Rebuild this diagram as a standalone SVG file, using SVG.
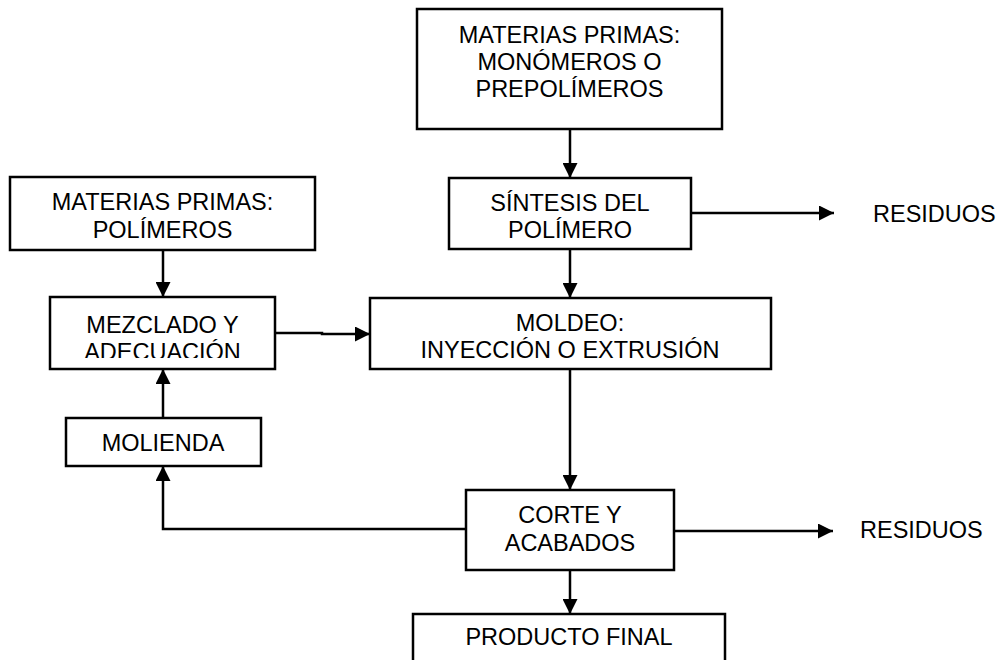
<svg xmlns="http://www.w3.org/2000/svg" width="999" height="660" viewBox="0 0 999 660">
<defs>
<style>
.box{fill:#fff;stroke:#000;stroke-width:2.5}
.t{font-family:"Liberation Sans",Arial,sans-serif;font-size:23.5px;fill:#000;text-anchor:middle}
.tl{font-family:"Liberation Sans",Arial,sans-serif;font-size:23.5px;fill:#000}
.c{fill:none;stroke:#000;stroke-width:2.5}
</style>
<marker id="ah" markerWidth="15" markerHeight="15" refX="15" refY="7.5" orient="auto" markerUnits="userSpaceOnUse">
<path d="M0,0 L15,7.5 L0,15 Z" fill="#000"/>
</marker>
<clipPath id="clipE"><rect x="50" y="297" width="225" height="61"/></clipPath>
</defs>
<rect width="999" height="660" fill="#fff"/>
<g id="connectors">
<path class="c" d="M570,129 V178" marker-end="url(#ah)"/>
<path class="c" d="M691,213 H834" marker-end="url(#ah)"/>
<path class="c" d="M570,249 V298" marker-end="url(#ah)"/>
<path class="c" d="M163,250 V297" marker-end="url(#ah)"/>
<path class="c" d="M275,333 H322 V334 H370" marker-end="url(#ah)"/>
<path class="c" d="M163,418 V369" marker-end="url(#ah)"/>
<path class="c" d="M466,529 H163 V466" marker-end="url(#ah)"/>
<path class="c" d="M570,369 V490" marker-end="url(#ah)"/>
<path class="c" d="M674,531 H833" marker-end="url(#ah)"/>
<path class="c" d="M570,570 V614" marker-end="url(#ah)"/>
</g>
<g id="n-monomeros">
<rect class="box" x="417" y="9" width="305" height="120"/>
<text class="t" x="569.5" y="43">MATERIAS PRIMAS:</text>
<text class="t" x="569.5" y="70">MONÓMEROS O</text>
<text class="t" x="569.5" y="97">PREPOLÍMEROS</text>
</g>
<g id="n-sintesis">
<rect class="box" x="449" y="178" width="242" height="71"/>
<text class="t" x="570" y="211">SÍNTESIS DEL</text>
<text class="t" x="570" y="238">POLÍMERO</text>
</g>
<g id="n-residuos1">
<text class="tl" x="873" y="222">RESIDUOS</text>
</g>
<g id="n-polimeros">
<rect class="box" x="10" y="177" width="305" height="73"/>
<text class="t" x="162.5" y="210">MATERIAS PRIMAS:</text>
<text class="t" x="162.5" y="238">POLÍMEROS</text>
</g>
<g id="n-mezclado">
<rect class="box" x="50" y="297" width="225" height="72"/>
<g clip-path="url(#clipE)">
<text class="t" x="162.5" y="333">MEZCLADO Y</text>
<text class="t" x="162.5" y="360">ADECUACIÓN</text>
</g>
</g>
<g id="n-moldeo">
<rect class="box" x="370" y="298" width="401" height="71"/>
<text class="t" x="570" y="331">MOLDEO:</text>
<text class="t" x="570" y="358">INYECCIÓN O EXTRUSIÓN</text>
</g>
<g id="n-molienda">
<rect class="box" x="66" y="418" width="195" height="48"/>
<text class="t" x="163" y="451">MOLIENDA</text>
</g>
<g id="n-corte">
<rect class="box" x="466" y="490" width="208" height="80"/>
<text class="t" x="570" y="523">CORTE Y</text>
<text class="t" x="570" y="551">ACABADOS</text>
</g>
<g id="n-residuos2">
<text class="tl" x="860" y="538">RESIDUOS</text>
</g>
<g id="n-producto">
<rect class="box" x="413" y="614" width="312" height="60"/>
<text class="t" x="569" y="645">PRODUCTO FINAL</text>
</g>
</svg>
